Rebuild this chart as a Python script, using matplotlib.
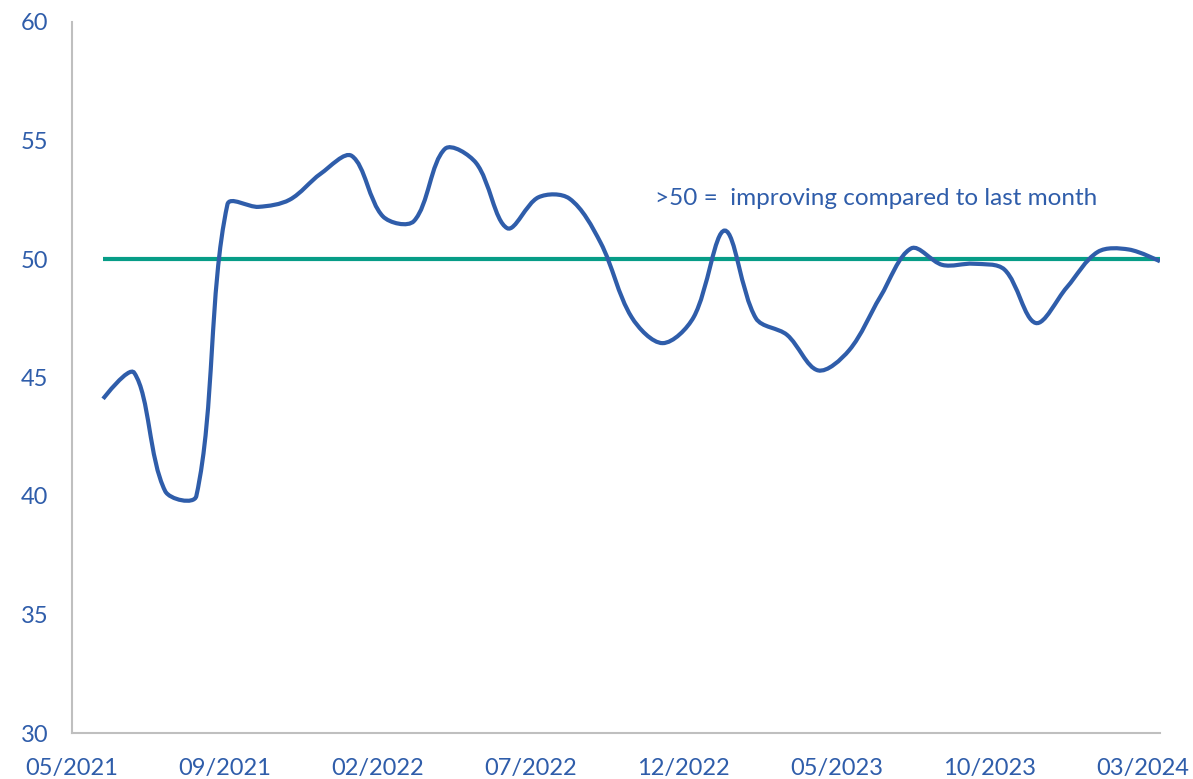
import numpy as np
import matplotlib
matplotlib.use("Agg")
import matplotlib.pyplot as plt
from matplotlib.path import Path
from matplotlib.patches import PathPatch

# monthly index values, 05/2021 .. 03/2024
values = [44.1, 45.2, 40.2, 40.0, 52.3, 52.2, 52.5, 53.6, 54.35, 51.8,
          51.6, 54.65, 54.05, 51.3, 52.6, 52.55, 50.7, 47.55, 46.45, 47.55,
          51.2, 47.5, 46.8, 45.3, 46.15, 48.4, 50.45, 49.75, 49.8, 49.55,
          47.3, 48.8, 50.3, 50.4, 49.9]
threshold = [50] * len(values)
tick_labels = ["05/2021", "09/2021", "02/2022", "07/2022",
               "12/2022", "05/2023", "10/2023", "03/2024"]
note = ">50 =  improving compared to last month"

blue = "#2F5DAA"
green = "#079D87"

# pixels per unit, used so the smoothing works in screen space like excel
PX_X, PX_Y = 31.1, 23.7


def smooth_path(x, y, t=1 / 3):
    P = np.column_stack([np.asarray(x, float) * PX_X, np.asarray(y, float) * PX_Y])
    n = len(P)
    c_in = P.copy()
    c_out = P.copy()
    for i in range(1, n - 1):
        d0 = np.linalg.norm(P[i] - P[i - 1])
        d1 = np.linalg.norm(P[i + 1] - P[i])
        d = P[i + 1] - P[i - 1]
        c_in[i] = P[i] - t * d0 / (d0 + d1) * d
        c_out[i] = P[i] + t * d1 / (d0 + d1) * d
    verts = [P[0]]
    codes = [Path.MOVETO]
    for i in range(n - 1):
        verts += [c_out[i], c_in[i + 1], P[i + 1]]
        codes += [Path.CURVE4] * 3
    verts = np.array(verts) / [PX_X, PX_Y]
    return Path(verts, codes)


x = np.arange(len(values))

fig = plt.figure(figsize=(11.93, 7.79), dpi=100)
ax = fig.add_axes([72 / 1193, 46 / 779, (1160 - 72) / 1193, (733 - 22) / 779])

ax.plot(x, threshold, color=green, lw=3, solid_capstyle="butt", zorder=2)
ax.add_patch(PathPatch(smooth_path(x, values), facecolor="none", edgecolor=blue,
                       lw=3, capstyle="butt", zorder=3))

ax.set_xlim(-1, len(values) - 1)
ax.set_ylim(30, 60)
ax.set_yticks(range(30, 61, 5))
step = 153 / PX_X
ax.set_xticks([-1 + step * i for i in range(len(tick_labels))])
ax.set_xticklabels(tick_labels)

for s in ["top", "right"]:
    ax.spines[s].set_visible(False)
for s in ["left", "bottom"]:
    ax.spines[s].set_color("#BFBFBF")
    ax.spines[s].set_linewidth(1.5)
ax.tick_params(length=0, labelsize=17, labelcolor=blue)
ax.tick_params(axis="y", pad=17)
ax.tick_params(axis="x", pad=18)
for lab in ax.get_xticklabels() + ax.get_yticklabels():
    lab.set_family("Lato")

ax.text(17.75, 52.57, note, color=blue, fontsize=17.5, family="Lato",
        ha="left", va="center")

fig.savefig("out.png", dpi=100)
